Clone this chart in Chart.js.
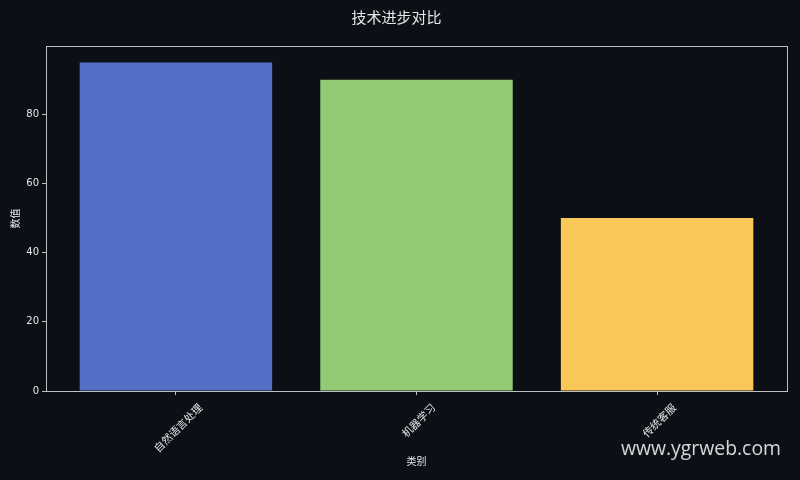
<!DOCTYPE html>
<html>
<head>
<meta charset="utf-8">
<script src="https://cdn.jsdelivr.net/npm/chart.js@4.4.0/dist/chart.umd.min.js"></script>
<style>
html,body{margin:0;padding:0;background:#0c0f16;}
#wrap{width:800px;height:480px;}
</style>
</head>
<body>
<div id="wrap"><canvas id="c" width="800" height="480"></canvas></div>
<script>
const categories = ['自然语言处理', '机器学习', '传统客服'];
const values = [95, 90, 50];
const barColors = ['#5470c6', '#91cc75', '#fac858'];
const yTicks = [0, 20, 40, 60, 80];
const titleText = '技术进步对比';
const xTitle = '类别';
const yTitle = '数值';
const watermark = 'www.ygrweb.com';

const FONT = "'DejaVu Sans', 'Noto Sans CJK SC', sans-serif";
const TXT = '#e6e6e6';
const AX = '#bfbfbf';

const boxPlugin = {
  id: 'box',
  beforeDraw(chart) {
    const ctx = chart.ctx;
    ctx.save();
    ctx.fillStyle = '#0c0f16';
    ctx.fillRect(0, 0, chart.width, chart.height);
    // center rotated x tick labels under their ticks (matplotlib ha='center' style)
    const s = chart.scales.x;
    const items = s.getLabelItems(chart.chartArea);
    if (!items._centered) {
      items.forEach((it) => {
        ctx.font = it.font.string;
        const w = ctx.measureText(String(it.label)).width;
        it.options.translation[0] += w * Math.SQRT1_2 / 2 + 3;
        it.options.translation[1] += 3;
      });
      items._centered = true;
    }
    ctx.restore();
  },
  afterDatasetsDraw(chart) {
    const a = chart.chartArea, ctx = chart.ctx;
    ctx.save();
    ctx.strokeStyle = AX;
    ctx.lineWidth = 1;
    ctx.strokeRect(Math.round(a.left) + 0.5, Math.round(a.top) + 0.5, Math.round(a.right - a.left), Math.round(a.bottom - a.top));
    ctx.restore();
  },
  afterDraw(chart) {
    const ctx = chart.ctx;
    ctx.save();
    ctx.font = "19.4px 'Open Sans', 'Noto Sans', sans-serif";
    ctx.fillStyle = 'rgba(235,235,235,0.9)';
    ctx.textAlign = 'right';
    ctx.textBaseline = 'alphabetic';
    ctx.fillText(watermark, 781, 455);
    ctx.restore();
  }
};

new Chart(document.getElementById('c'), {
  type: 'bar',
  data: {
    datasets: [{
      data: values.map((v, i) => ({x: i, y: v})),
      backgroundColor: barColors,
      borderWidth: 0,
      barPercentage: 0.8,
      categoryPercentage: 1.0
    }]
  },
  options: {
    responsive: false,
    animation: false,
    devicePixelRatio: 1,
    layout: {padding: {left: 6, right: 13, top: 0, bottom: 8}},
    plugins: {
      legend: {display: false},
      tooltip: {enabled: false},
      title: {
        display: true, text: titleText, color: TXT,
        font: {size: 15, family: FONT, weight: 'normal'},
        padding: {top: 10, bottom: 18}
      }
    },
    scales: {
      x: {
        type: 'linear',
        min: -0.54, max: 2.54,
        offset: false,
        grid: {offset: false, drawOnChartArea: false, drawTicks: true, tickLength: 4, color: AX},
        border: {display: true, color: AX},
        ticks: {
          stepSize: 1, includeBounds: false, autoSkip: false,
          maxRotation: 45, minRotation: 45, padding: 4,
          color: TXT, font: {size: 10.5, family: FONT},
          callback: (v) => Number.isInteger(v) ? categories[v] : ''
        },
        title: {display: true, text: xTitle, color: TXT, font: {size: 10, family: FONT}},
        afterFit: (s) => { s.height = 81; }
      },
      y: {
        min: 0, max: 99.75,
        grid: {drawOnChartArea: false, drawTicks: true, tickLength: 4, color: AX},
        border: {display: true, color: AX},
        afterBuildTicks: (s) => { s.ticks = yTicks.map(v => ({value: v})); },
        ticks: {color: TXT, font: {size: 10, family: FONT}},
        title: {display: true, text: yTitle, color: TXT, font: {size: 10, family: FONT}},
        afterFit: (s) => { s.width = 40; }
      }
    }
  },
  plugins: [boxPlugin]
});
</script>
</body>
</html>
